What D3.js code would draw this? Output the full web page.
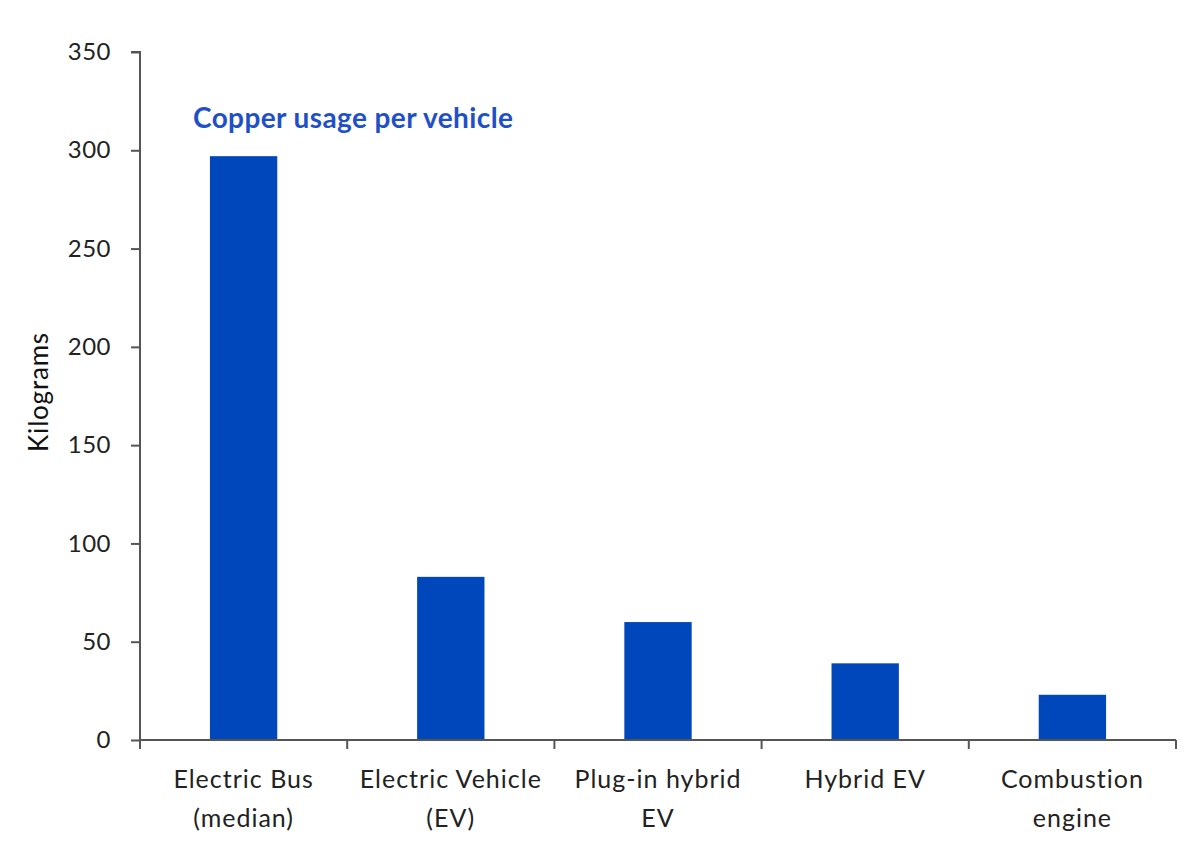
<!DOCTYPE html>
<html>
<head>
<meta charset="utf-8">
<script src="https://cdn.jsdelivr.net/npm/d3@7"></script>
<style>
  body { margin: 0; background: #fff; }
  text { font-family: Lato, "Open Sans", sans-serif; }
</style>
</head>
<body>
<div id="chart"></div>
<script>
// values
const categories = [
  ["Electric Bus", "(median)"],
  ["Electric Vehicle", "(EV)"],
  ["Plug-in hybrid", "EV"],
  ["Hybrid EV"],
  ["Combustion", "engine"]
];
const kilograms = [297, 83, 60, 39, 23];
const yTicks = [0, 50, 100, 150, 200, 250, 300, 350];

const W = 1200, H = 850;
const margin = { top: 52, right: 24, bottom: 110, left: 140 };
const width = W - margin.left - margin.right,
      height = H - margin.top - margin.bottom;

const data = categories.map((c, i) => ({ key: c.join(" "), lines: c, value: kilograms[i] }));

const svg = d3.select("#chart").append("svg")
    .attr("width", W)
    .attr("height", H)
  .append("g")
    .attr("transform", `translate(${margin.left},${margin.top})`);

const x = d3.scaleBand().domain(data.map(d => d.key)).range([0, width])
    .paddingInner(0.675).paddingOuter(0.3375);
const y = d3.scaleLinear().domain([0, 350]).range([height, 0]);

// bars
svg.selectAll(".bar")
   .data(data)
   .enter().append("rect")
   .attr("class", "bar")
   .attr("x", d => x(d.key))
   .attr("y", d => y(d.value))
   .attr("width", x.bandwidth())
   .attr("height", d => y(0) - y(d.value))
   .attr("fill", "#0047bb");

// y axis
const yAxis = svg.append("g")
   .call(d3.axisLeft(y).tickValues(yTicks).tickSize(9).tickPadding(20));
yAxis.select(".domain").attr("stroke", "#555").attr("stroke-width", 2).attr("d", `M0,${height}V0H-9`);
yAxis.selectAll(".tick line").attr("stroke", "#555").attr("stroke-width", 2);
yAxis.selectAll(".tick text")
   .style("font-size", "24px")
   .style("letter-spacing", "0.5px")
   .attr("fill", "#222");

// x axis: tick marks at band edges
const xAxis = svg.append("g").attr("transform", `translate(0,${height})`);
xAxis.append("path")
   .attr("d", `M0,0H${width}`)
   .attr("stroke", "#555").attr("stroke-width", 2);
const edges = data.map((d, i) => i === 0 ? 0 : x(d.key) - x.step() * x.paddingInner() / 2);
edges.push(width);
xAxis.selectAll(".edge")
   .data(edges)
   .enter().append("line")
   .attr("x1", d => d).attr("x2", d => d)
   .attr("y1", 0).attr("y2", 9)
   .attr("stroke", "#555").attr("stroke-width", 2);

const labels = xAxis.selectAll(".xlabel")
   .data(data)
   .enter().append("text")
   .attr("class", "xlabel")
   .attr("x", d => x(d.key) + x.bandwidth() / 2)
   .attr("y", 48)
   .attr("text-anchor", "middle")
   .style("font-size", "25px")
   .style("letter-spacing", "1px")
   .attr("fill", "#222");
labels.selectAll("tspan")
   .data(d => d.lines.map(l => ({ l, cx: x(d.key) + x.bandwidth() / 2 })))
   .enter().append("tspan")
   .attr("x", d => d.cx)
   .attr("dy", (d, i) => i === 0 ? 0 : 39)
   .text(d => d.l);

// y axis title
svg.append("text")
   .attr("transform", `translate(${-92},${height / 2 - 4}) rotate(-90)`)
   .attr("text-anchor", "middle")
   .style("font-size", "26px")
   .style("letter-spacing", "0.8px")
   .attr("fill", "#111")
   .text("Kilograms");

// chart title
svg.append("text")
   .attr("x", 53)
   .attr("y", 76)
   .style("font-size", "28px")
   .style("font-weight", "bold")
   .style("letter-spacing", "0.4px")
   .attr("fill", "#1f50c8")
   .text("Copper usage per vehicle");
</script>
</body>
</html>
